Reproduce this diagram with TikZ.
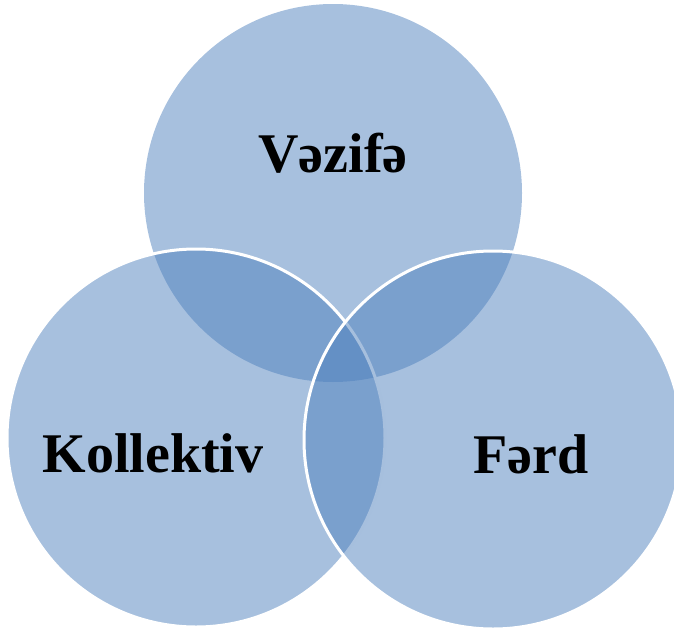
\documentclass[tikz,border=0pt]{standalone}
\usepackage{fontspec}
\setmainfont{Liberation Serif}
\usepackage{tikz}
\definecolor{vennblue}{RGB}{79,129,189}
\tikzset{
  disc/.style={shape=circle,fill=vennblue,fill opacity=0.5,minimum size=378pt,inner sep=0},
  rim/.style={draw=white,line width=3pt},
  word/.style={font=\fontsize{56}{60}\selectfont\bfseries,anchor=base,inner sep=0}
}
\begin{document}
\begin{tikzpicture}[x=1pt,y=-1pt]
  \useasboundingbox (0,0) rectangle (674,632);
  \node[disc] (vezife) at (333,193) {};
  \node[disc,rim] (kollektiv) at (196,438) {};
  \node[disc,rim] (ferd) at (493,440) {};
  \node[word] (tvezife) at (333,172) {Vəzifə};
  \node[word] (tkollektiv) at (153,472) {Kollektiv};
  \node[word] (tferd) at (531,473) {Fərd};
\end{tikzpicture}
\end{document}
